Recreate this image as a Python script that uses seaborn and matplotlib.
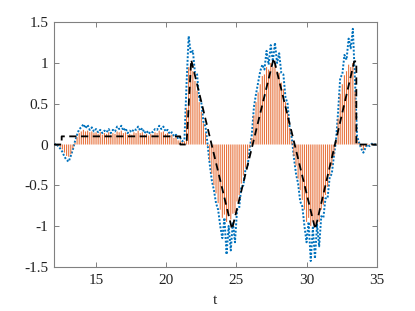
import numpy as np
import pandas as pd
import seaborn as sns
import matplotlib
matplotlib.use("Agg")
import matplotlib.pyplot as plt

# Sample times of the measured / estimated signals (0.15 s step)
t = np.round(12.0 + 0.15 * np.arange(154), 2)

# Measured output (blue dotted)
y_meas = [
    0.00, 0.01, -0.02, -0.05, -0.09, -0.15, -0.19, -0.21, -0.14, -0.06,
    0.04, 0.12, 0.19, 0.21, 0.25, 0.20, 0.24, 0.18, 0.21, 0.16,
    0.19, 0.15, 0.18, 0.14, 0.17, 0.15, 0.19, 0.14, 0.18, 0.16,
    0.22, 0.19, 0.23, 0.17, 0.20, 0.14, 0.17, 0.15, 0.19, 0.18,
    0.22, 0.17, 0.20, 0.14, 0.17, 0.13, 0.16, 0.15, 0.19, 0.18,
    0.23, 0.19, 0.22, 0.16, 0.18, 0.13, 0.15, 0.10, 0.12, 0.07,
    0.08, 0.04, 0.06, 0.75, 1.33, 1.12, 1.15, 0.88, 0.86, 0.56,
    0.52, 0.28, 0.22, 0.00, -0.24, -0.44, -0.56, -0.72, -0.80, -1.00,
    -1.15, -0.90, -1.35, -1.00, -1.30, -0.95, -1.20, -0.80, -0.78, -0.52,
    -0.50, -0.30, -0.27, -0.05, 0.12, 0.46, 0.62, 0.76, 0.90, 0.98,
    0.92, 1.15, 0.98, 1.22, 1.02, 1.25, 1.00, 1.12, 0.88, 0.86,
    0.58, 0.50, 0.20, 0.08, -0.16, -0.36, -0.48, -0.70, -0.76, -1.00,
    -1.20, -0.95, -1.43, -1.02, -1.40, -0.98, -1.25, -0.88, -0.90, -0.66,
    -0.66, -0.40, -0.36, -0.14, 0.05, 0.40, 0.82, 0.86, 1.10, 1.04,
    1.30, 1.18, 1.42, 0.80, 0.10, 0.02, -0.05, -0.10, -0.04, 0.00,
    -0.02, 0.01, 0.00, 0.00,
]

# Estimated signal (orange stems)
y_stem = [
    0.00, 0.00, -0.01, -0.03, -0.06, -0.10, -0.14, -0.15, -0.12, -0.05,
    0.02, 0.09, 0.14, 0.16, 0.18, 0.16, 0.17, 0.15, 0.16, 0.14,
    0.15, 0.13, 0.15, 0.12, 0.14, 0.13, 0.15, 0.12, 0.14, 0.13,
    0.16, 0.15, 0.17, 0.14, 0.15, 0.12, 0.13, 0.12, 0.15, 0.14,
    0.17, 0.14, 0.15, 0.12, 0.13, 0.11, 0.13, 0.12, 0.15, 0.14,
    0.17, 0.15, 0.16, 0.13, 0.14, 0.11, 0.12, 0.08, 0.09, 0.05,
    0.05, 0.03, 0.04, 0.45, 0.95, 1.00, 0.90, 0.78, 0.66, 0.52,
    0.40, 0.26, 0.14, -0.02, -0.20, -0.36, -0.50, -0.60, -0.72, -0.80,
    -0.90, -0.86, -0.95, -0.88, -0.92, -0.85, -0.84, -0.70, -0.62, -0.48,
    -0.38, -0.28, -0.18, -0.04, 0.08, 0.36, 0.52, 0.64, 0.74, 0.84,
    0.86, 0.95, 0.92, 1.00, 0.95, 0.98, 0.90, 0.88, 0.76, 0.68,
    0.52, 0.38, 0.20, 0.04, -0.14, -0.26, -0.42, -0.56, -0.68, -0.80,
    -0.95, -0.90, -1.00, -0.94, -0.98, -0.92, -0.95, -0.80, -0.74, -0.62,
    -0.52, -0.38, -0.26, -0.14, 0.03, 0.32, 0.62, 0.74, 0.85, 0.90,
    0.98, 0.95, 1.00, 0.65, 0.06, 0.02, -0.03, -0.07, -0.03, 0.01,
    -0.01, 0.01, 0.00, 0.00,
]

# Reference signal (black dashed), break points
ref_t = [12.0, 12.55, 12.55, 21.0, 21.0, 21.45, 21.78, 24.69, 27.66, 30.62, 33.4, 33.55, 33.55, 35.0]
ref_y = [0.0, 0.0, 0.1, 0.1, 0.0, 0.0, 1.04, -1.04, 1.06, -1.04, 1.02, 1.02, 0.0, 0.0]

xticks = [15, 20, 25, 30, 35]
yticks = [-1.5, -1, -0.5, 0, 0.5, 1, 1.5]
ytick_labels = ['-1.5', '-1', '-0.5', '0', '0.5', '1', '1.5']

df = pd.DataFrame({'t': t, 'meas': y_meas, 'est': y_stem})
df_ref = pd.DataFrame({'t': ref_t, 'ref': ref_y})

sns.set_theme(style="ticks")
plt.rcParams['font.family'] = ['Liberation Serif', 'DejaVu Serif']
plt.rcParams['axes.unicode_minus'] = False

fig = plt.figure(figsize=(4.15, 3.11), dpi=100)
ax = fig.add_axes([0.130, 0.1424, 0.7777, 0.7859])

sns.lineplot(data=df, x='t', y='meas', ax=ax, color='#0072BD',
             linewidth=1.4, sort=False, estimator=None, zorder=2)
ax.lines[-1].set_linestyle((0, (1, 0.9)))

# stems from zero to each estimate
ax.vlines(df['t'].to_numpy(), 0, df['est'].to_numpy(), colors='#E8743F',
          linewidths=0.8, zorder=3, snap=False, antialiased=True)

sns.lineplot(data=df_ref, x='t', y='ref', ax=ax, color='black', linewidth=1.3,
             sort=False, estimator=None, zorder=4)
ax.lines[-1].set_dashes([4, 2.5])

ax.set_xlim(12, 35)
ax.set_ylim(-1.5, 1.5)
ax.set_xticks(xticks)
ax.set_xticklabels([str(v) for v in xticks])
ax.set_yticks(yticks)
ax.set_yticklabels(ytick_labels)
ax.set_xlabel('t', fontsize=11, labelpad=5)
ax.set_ylabel('')

for s in ax.spines.values():
    s.set_visible(True)
    s.set_color('#808080')
    s.set_linewidth(0.8)
ax.tick_params(direction='in', top=True, right=True, length=3.5, width=0.7,
               color='#808080', labelsize=11, labelcolor='#222222')
ax.tick_params(axis='x', pad=5)
ax.tick_params(axis='y', pad=4)

fig.savefig('out.png', dpi=100)
